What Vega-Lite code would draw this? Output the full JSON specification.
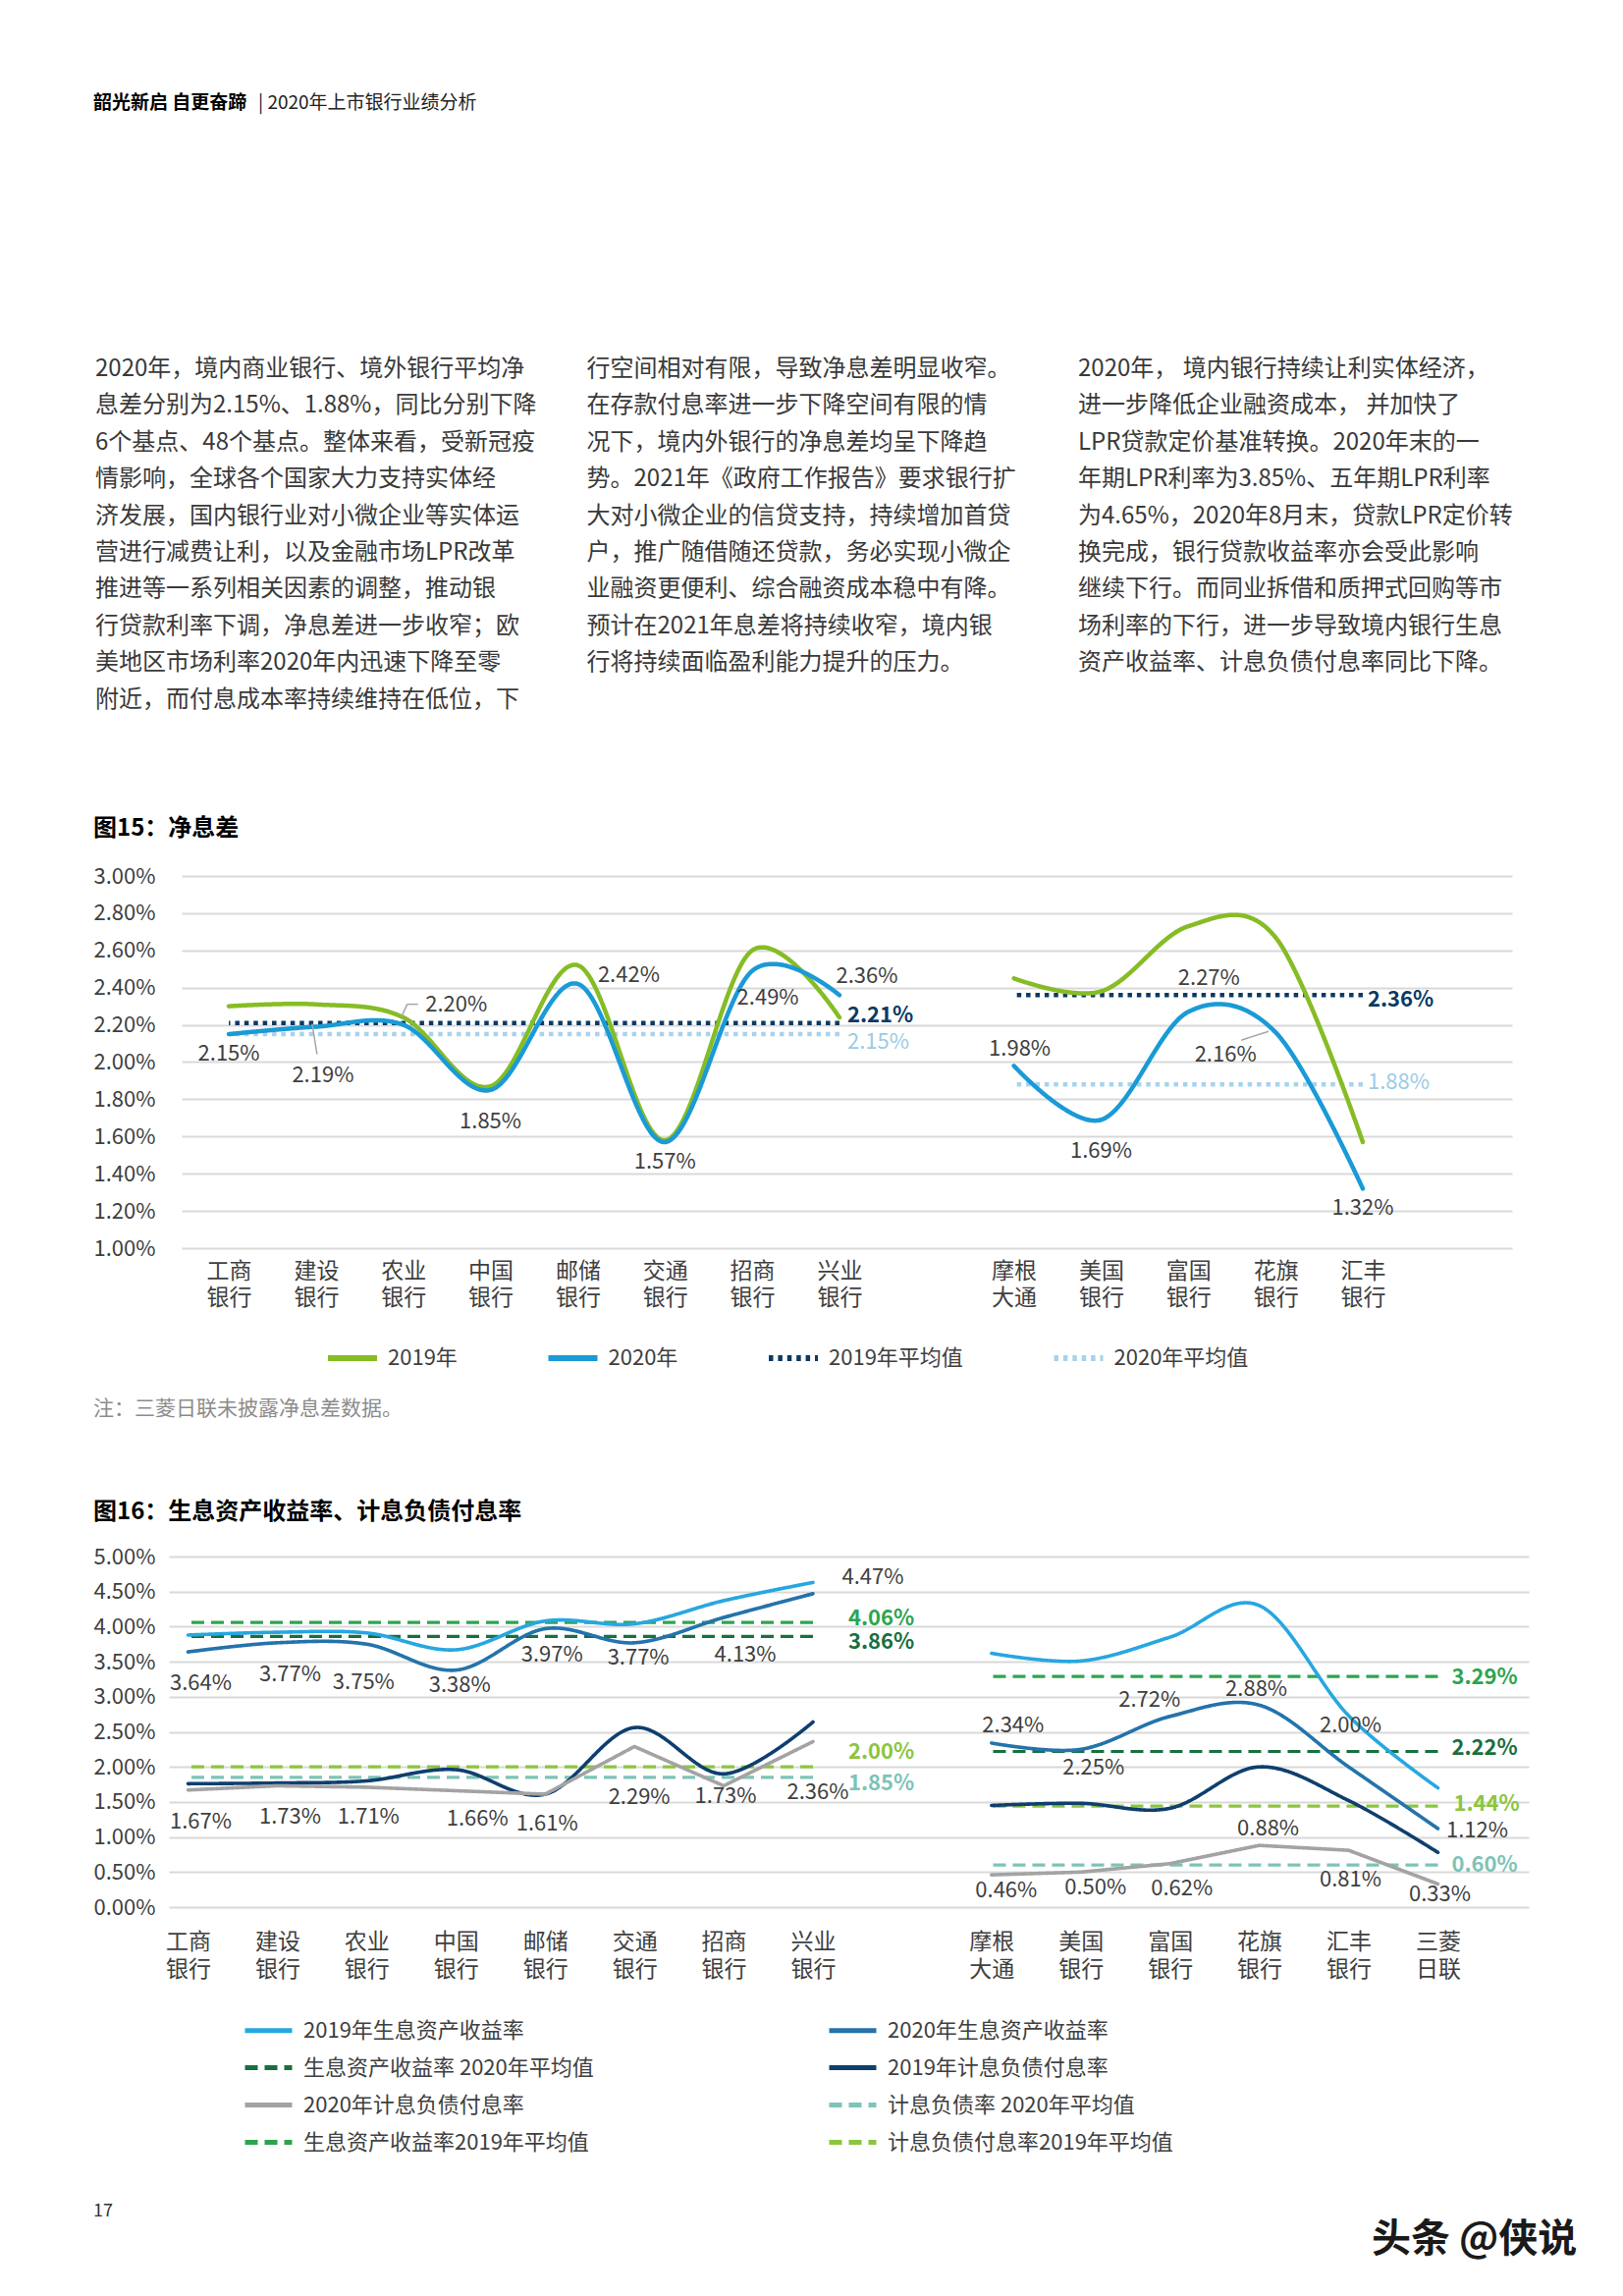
{
  "$schema": "https://vega.github.io/schema/vega-lite/v6.json",
  "padding": 0,
  "background": "white",
  "spacing": 0,
  "bounds": "flush",
  "config": {
    "view": {"stroke": null},
    "font": "Noto Sans CJK SC",
    "title": {"anchor": "start", "fontSize": 24, "fontWeight": "bold", "color": "#000000", "baseline": "bottom"}
  },
  "resolve": {"scale": {"color": "independent", "strokeDash": "independent", "x": "independent", "y": "independent"}, "legend": {"color": "independent", "strokeDash": "independent"}},
  "datasets": {
    "nim": [
      {"bank": "工商银行", "grp": "境内", "series": "2019年", "v": 0.0230},
      {"bank": "建设银行", "grp": "境内", "series": "2019年", "v": 0.0231},
      {"bank": "农业银行", "grp": "境内", "series": "2019年", "v": 0.0224},
      {"bank": "中国银行", "grp": "境内", "series": "2019年", "v": 0.0187},
      {"bank": "邮储银行", "grp": "境内", "series": "2019年", "v": 0.0252},
      {"bank": "交通银行", "grp": "境内", "series": "2019年", "v": 0.0158},
      {"bank": "招商银行", "grp": "境内", "series": "2019年", "v": 0.0260},
      {"bank": "兴业银行", "grp": "境内", "series": "2019年", "v": 0.0224},
      {"bank": "摩根大通", "grp": "境外", "series": "2019年", "v": 0.0245},
      {"bank": "美国银行", "grp": "境外", "series": "2019年", "v": 0.0238},
      {"bank": "富国银行", "grp": "境外", "series": "2019年", "v": 0.0273},
      {"bank": "花旗银行", "grp": "境外", "series": "2019年", "v": 0.0267},
      {"bank": "汇丰银行", "grp": "境外", "series": "2019年", "v": 0.0157},
      {"bank": "工商银行", "grp": "境内", "series": "2020年", "v": 0.0215},
      {"bank": "建设银行", "grp": "境内", "series": "2020年", "v": 0.0219},
      {"bank": "农业银行", "grp": "境内", "series": "2020年", "v": 0.0220},
      {"bank": "中国银行", "grp": "境内", "series": "2020年", "v": 0.0185},
      {"bank": "邮储银行", "grp": "境内", "series": "2020年", "v": 0.0242},
      {"bank": "交通银行", "grp": "境内", "series": "2020年", "v": 0.0157},
      {"bank": "招商银行", "grp": "境内", "series": "2020年", "v": 0.0249},
      {"bank": "兴业银行", "grp": "境内", "series": "2020年", "v": 0.0236},
      {"bank": "摩根大通", "grp": "境外", "series": "2020年", "v": 0.0198},
      {"bank": "美国银行", "grp": "境外", "series": "2020年", "v": 0.0169},
      {"bank": "富国银行", "grp": "境外", "series": "2020年", "v": 0.0227},
      {"bank": "花旗银行", "grp": "境外", "series": "2020年", "v": 0.0216},
      {"bank": "汇丰银行", "grp": "境外", "series": "2020年", "v": 0.0132}
    ],
    "nimAvg": [
      {"grp": "境内", "series": "2019年平均值", "v": 0.0221, "start": "工商银行", "bank": "兴业银行"},
      {"grp": "境内", "series": "2020年平均值", "v": 0.0215, "start": "工商银行", "bank": "兴业银行"},
      {"grp": "境外", "series": "2019年平均值", "v": 0.0236, "start": "摩根大通", "bank": "汇丰银行"},
      {"grp": "境外", "series": "2020年平均值", "v": 0.0188, "start": "摩根大通", "bank": "汇丰银行"}
    ],
    "yld": [
      {"bank": "工商银行", "grp": "境内", "series": "2019年生息资产收益率", "v": 0.0388},
      {"bank": "建设银行", "grp": "境内", "series": "2019年生息资产收益率", "v": 0.0392},
      {"bank": "农业银行", "grp": "境内", "series": "2019年生息资产收益率", "v": 0.0391},
      {"bank": "中国银行", "grp": "境内", "series": "2019年生息资产收益率", "v": 0.0367},
      {"bank": "邮储银行", "grp": "境内", "series": "2019年生息资产收益率", "v": 0.0408},
      {"bank": "交通银行", "grp": "境内", "series": "2019年生息资产收益率", "v": 0.0404},
      {"bank": "招商银行", "grp": "境内", "series": "2019年生息资产收益率", "v": 0.0437},
      {"bank": "兴业银行", "grp": "境内", "series": "2019年生息资产收益率", "v": 0.0463},
      {"bank": "摩根大通", "grp": "境外", "series": "2019年生息资产收益率", "v": 0.0362},
      {"bank": "美国银行", "grp": "境外", "series": "2019年生息资产收益率", "v": 0.0351},
      {"bank": "富国银行", "grp": "境外", "series": "2019年生息资产收益率", "v": 0.0385},
      {"bank": "花旗银行", "grp": "境外", "series": "2019年生息资产收益率", "v": 0.0430},
      {"bank": "汇丰银行", "grp": "境外", "series": "2019年生息资产收益率", "v": 0.0273},
      {"bank": "三菱日联", "grp": "境外", "series": "2019年生息资产收益率", "v": 0.0170},
      {"bank": "工商银行", "grp": "境内", "series": "2020年生息资产收益率", "v": 0.0364},
      {"bank": "建设银行", "grp": "境内", "series": "2020年生息资产收益率", "v": 0.0377},
      {"bank": "农业银行", "grp": "境内", "series": "2020年生息资产收益率", "v": 0.0375},
      {"bank": "中国银行", "grp": "境内", "series": "2020年生息资产收益率", "v": 0.0338},
      {"bank": "邮储银行", "grp": "境内", "series": "2020年生息资产收益率", "v": 0.0397},
      {"bank": "交通银行", "grp": "境内", "series": "2020年生息资产收益率", "v": 0.0377},
      {"bank": "招商银行", "grp": "境内", "series": "2020年生息资产收益率", "v": 0.0413},
      {"bank": "兴业银行", "grp": "境内", "series": "2020年生息资产收益率", "v": 0.0447},
      {"bank": "摩根大通", "grp": "境外", "series": "2020年生息资产收益率", "v": 0.0234},
      {"bank": "美国银行", "grp": "境外", "series": "2020年生息资产收益率", "v": 0.0225},
      {"bank": "富国银行", "grp": "境外", "series": "2020年生息资产收益率", "v": 0.0272},
      {"bank": "花旗银行", "grp": "境外", "series": "2020年生息资产收益率", "v": 0.0288},
      {"bank": "汇丰银行", "grp": "境外", "series": "2020年生息资产收益率", "v": 0.0200},
      {"bank": "三菱日联", "grp": "境外", "series": "2020年生息资产收益率", "v": 0.0112},
      {"bank": "工商银行", "grp": "境内", "series": "2019年计息负债付息率", "v": 0.0176},
      {"bank": "建设银行", "grp": "境内", "series": "2019年计息负债付息率", "v": 0.0177},
      {"bank": "农业银行", "grp": "境内", "series": "2019年计息负债付息率", "v": 0.0180},
      {"bank": "中国银行", "grp": "境内", "series": "2019年计息负债付息率", "v": 0.0196},
      {"bank": "邮储银行", "grp": "境内", "series": "2019年计息负债付息率", "v": 0.0161},
      {"bank": "交通银行", "grp": "境内", "series": "2019年计息负债付息率", "v": 0.0256},
      {"bank": "招商银行", "grp": "境内", "series": "2019年计息负债付息率", "v": 0.0190},
      {"bank": "兴业银行", "grp": "境内", "series": "2019年计息负债付息率", "v": 0.0264},
      {"bank": "摩根大通", "grp": "境外", "series": "2019年计息负债付息率", "v": 0.0145},
      {"bank": "美国银行", "grp": "境外", "series": "2019年计息负债付息率", "v": 0.0148},
      {"bank": "富国银行", "grp": "境外", "series": "2019年计息负债付息率", "v": 0.0141},
      {"bank": "花旗银行", "grp": "境外", "series": "2019年计息负债付息率", "v": 0.0200},
      {"bank": "汇丰银行", "grp": "境外", "series": "2019年计息负债付息率", "v": 0.0152},
      {"bank": "三菱日联", "grp": "境外", "series": "2019年计息负债付息率", "v": 0.0078},
      {"bank": "工商银行", "grp": "境内", "series": "2020年计息负债付息率", "v": 0.0167},
      {"bank": "建设银行", "grp": "境内", "series": "2020年计息负债付息率", "v": 0.0173},
      {"bank": "农业银行", "grp": "境内", "series": "2020年计息负债付息率", "v": 0.0171},
      {"bank": "中国银行", "grp": "境内", "series": "2020年计息负债付息率", "v": 0.0166},
      {"bank": "邮储银行", "grp": "境内", "series": "2020年计息负债付息率", "v": 0.0161},
      {"bank": "交通银行", "grp": "境内", "series": "2020年计息负债付息率", "v": 0.0229},
      {"bank": "招商银行", "grp": "境内", "series": "2020年计息负债付息率", "v": 0.0173},
      {"bank": "兴业银行", "grp": "境内", "series": "2020年计息负债付息率", "v": 0.0236},
      {"bank": "摩根大通", "grp": "境外", "series": "2020年计息负债付息率", "v": 0.0046},
      {"bank": "美国银行", "grp": "境外", "series": "2020年计息负债付息率", "v": 0.0050},
      {"bank": "富国银行", "grp": "境外", "series": "2020年计息负债付息率", "v": 0.0062},
      {"bank": "花旗银行", "grp": "境外", "series": "2020年计息负债付息率", "v": 0.0088},
      {"bank": "汇丰银行", "grp": "境外", "series": "2020年计息负债付息率", "v": 0.0081},
      {"bank": "三菱日联", "grp": "境外", "series": "2020年计息负债付息率", "v": 0.0033}
    ],
    "yldAvg": [
      {"grp": "境内", "series": "生息资产收益率2019年平均值", "v": 0.0406, "start": "工商银行", "bank": "兴业银行"},
      {"grp": "境内", "series": "生息资产收益率 2020年平均值", "v": 0.0386, "start": "工商银行", "bank": "兴业银行"},
      {"grp": "境内", "series": "计息负债付息率2019年平均值", "v": 0.0200, "start": "工商银行", "bank": "兴业银行"},
      {"grp": "境内", "series": "计息负债率 2020年平均值", "v": 0.0185, "start": "工商银行", "bank": "兴业银行"},
      {"grp": "境外", "series": "生息资产收益率2019年平均值", "v": 0.0329, "start": "摩根大通", "bank": "三菱日联"},
      {"grp": "境外", "series": "生息资产收益率 2020年平均值", "v": 0.0222, "start": "摩根大通", "bank": "三菱日联"},
      {"grp": "境外", "series": "计息负债付息率2019年平均值", "v": 0.0144, "start": "摩根大通", "bank": "三菱日联"},
      {"grp": "境外", "series": "计息负债率 2020年平均值", "v": 0.0060, "start": "摩根大通", "bank": "三菱日联"}
    ]
  },
  "vconcat": [
    {
      "width": 1653, "height": 210,
      "data": {"values": [{"slot": "bold", "text": "韶光新启 自更奋蹄"}, {"slot": "rest", "text": "| 2020年上市银行业绩分析"}]},
      "encoding": {
        "x": {"field": "slot", "type": "nominal", "scale": {"type": "band", "domain": ["bold", "rest"], "range": [95, 431], "paddingInner": 0, "paddingOuter": 0}, "bandPosition": 0, "axis": null},
        "text": {"field": "text"}
      },
      "layer": [
        {"transform": [{"filter": {"field": "slot", "equal": "bold"}}], "mark": {"type": "text", "align": "left", "fontSize": 19, "fontWeight": "bold", "color": "#000000"}},
        {"transform": [{"filter": {"field": "slot", "equal": "rest"}}], "mark": {"type": "text", "align": "left", "fontSize": 19, "color": "#222222"}}
      ]
    },
    {
      "width": 1653, "height": 308,
      "data": {"values": [
        {"col": "c1", "text": "2020年，境内商业银行、境外银行平均净\n息差分别为2.15%、1.88%，同比分别下降\n6个基点、48个基点。整体来看，受新冠疫\n情影响，全球各个国家大力支持实体经\n济发展，国内银行业对小微企业等实体运\n营进行减费让利，以及金融市场LPR改革\n推进等一系列相关因素的调整，推动银\n行贷款利率下调，净息差进一步收窄；欧\n美地区市场利率2020年内迅速下降至零\n附近，而付息成本率持续维持在低位，下"},
        {"col": "c2", "text": "行空间相对有限，导致净息差明显收窄。\n在存款付息率进一步下降空间有限的情\n况下，境内外银行的净息差均呈下降趋\n势。2021年《政府工作报告》要求银行扩\n大对小微企业的信贷支持，持续增加首贷\n户，推广随借随还贷款，务必实现小微企\n业融资更便利、综合融资成本稳中有降。\n预计在2021年息差将持续收窄，境内银\n行将持续面临盈利能力提升的压力。"},
        {"col": "c3", "text": "2020年， 境内银行持续让利实体经济，\n进一步降低企业融资成本， 并加快了\nLPR贷款定价基准转换。2020年末的一\n年期LPR利率为3.85%、五年期LPR利率\n为4.65%，2020年8月末，贷款LPR定价转\n换完成，银行贷款收益率亦会受此影响\n继续下行。而同业拆借和质押式回购等市\n场利率的下行，进一步导致境内银行生息\n资产收益率、计息负债付息率同比下降。"}
      ]},
      "mark": {"type": "text", "align": "left", "baseline": "top", "lineBreak": "\n", "lineHeight": 37.4, "fontSize": 24, "color": "#3a3a3a"},
      "encoding": {
        "x": {"field": "col", "type": "nominal", "scale": {"type": "band", "domain": ["c1", "c2", "c3"], "range": [97, 1598.5], "paddingInner": 0, "paddingOuter": 0}, "bandPosition": 0, "axis": null},
        "text": {"field": "text"}
      }
    },
    {
      "width": 1653, "height": 373.5,
      "data": {"values": [{"t": ""}]},
      "mark": "text",
      "encoding": {"text": {"field": "t"}}
    },
    {
      "spacing": 0,
      "bounds": "flush",
      "resolve": {"scale": {"color": "independent", "strokeDash": "independent"}, "legend": {"color": "independent", "strokeDash": "independent"}},
      "hconcat": [
        {"width": 185, "height": 379, "data": {"values": [{"t": ""}]}, "mark": "text", "encoding": {"text": {"field": "t"}}},
        {
          "width": 1355, "height": 379,
          "title": {"text": "图15：净息差", "dx": 0, "offset": 25},
          "encoding": {
            "x": {"field": "bank", "type": "nominal",
              "sort": ["工商银行","建设银行","农业银行","中国银行","邮储银行","交通银行","招商银行","兴业银行"," ","摩根大通","美国银行","富国银行","花旗银行","汇丰银行","end"],
              "scale": {"type": "point", "domain": ["工商银行","建设银行","农业银行","中国银行","邮储银行","交通银行","招商银行","兴业银行"," ","摩根大通","美国银行","富国银行","花旗银行","汇丰银行","end"], "padding": 0.626, "align": 0.432},
              "axis": {"title": null, "domain": false, "ticks": false, "tickSize": 0, "grid": false, "labelAngle": 0, "labelPadding": 12, "labelFontSize": 23, "labelColor": "#404040", "labelLineHeight": 27, "labelBaseline": "top", "labelOverlap": false, "labelExpr": "length(datum.value) == 4 ? [substring(datum.value, 0, 2), substring(datum.value, 2, 4)] : ''"}},
            "y": {"field": "v", "type": "quantitative",
              "scale": {"domain": [0.01, 0.03], "nice": false, "zero": false},
              "axis": {"title": null, "values": [0.01, 0.012, 0.014, 0.016, 0.018, 0.02, 0.022, 0.024, 0.026, 0.028, 0.03], "format": ".2%", "grid": true, "gridColor": "#d9d9d9", "gridWidth": 2, "domain": false, "ticks": false, "tickSize": 0, "labelPadding": 27, "labelFontSize": 22, "labelColor": "#404040"}}
          },
          "layer": [
            {
              "data": {"name": "nimAvg"},
              "mark": {"type": "rule", "strokeWidth": 4.5},
              "encoding": {
                "x2": {"field": "start"},
                "color": {"field": "series", "type": "nominal", "scale": {"domain": ["2019年", "2020年", "2019年平均值", "2020年平均值"], "range": ["#86bc25", "#1a9ad6", "#0b3a63", "#a7d3ec"]},
                  "legend": {"title": null, "orient": "none", "legendX": 146, "legendY": 463, "direction": "horizontal", "symbolType": "stroke", "symbolSize": 2500, "symbolStrokeWidth": 6, "labelFontSize": 22, "labelColor": "#404040", "labelOffset": 8, "columnPadding": 80.5, "padding": 0, "labelLimit": 500}},
                "strokeDash": {"field": "series", "type": "nominal", "scale": {"domain": ["2019年", "2020年", "2019年平均值", "2020年平均值"], "range": [[1, 0], [1, 0], [4.5, 4.9], [4.5, 4.9]]},
                  "legend": {"title": null, "orient": "none", "legendX": 146, "legendY": 463, "direction": "horizontal", "symbolType": "stroke", "symbolSize": 2500, "symbolStrokeWidth": 6, "labelFontSize": 22, "labelColor": "#404040", "labelOffset": 8, "columnPadding": 80.5, "padding": 0, "labelLimit": 500}}
              }
            },
            {
              "data": {"name": "nim"},
              "mark": {"type": "line", "interpolate": "cardinal", "strokeWidth": 4.5, "strokeCap": "round"},
              "encoding": {
                "detail": {"field": "grp"},
                "color": {"field": "series", "type": "nominal", "scale": {"domain": ["2019年", "2020年", "2019年平均值", "2020年平均值"], "range": ["#86bc25", "#1a9ad6", "#0b3a63", "#a7d3ec"]},
                  "legend": {"title": null, "orient": "none", "legendX": 146, "legendY": 463, "direction": "horizontal", "symbolType": "stroke", "symbolSize": 2500, "symbolStrokeWidth": 6, "labelFontSize": 22, "labelColor": "#404040", "labelOffset": 8, "columnPadding": 80.5, "padding": 0, "labelLimit": 500}},
                "strokeDash": {"field": "series", "type": "nominal", "scale": {"domain": ["2019年", "2020年", "2019年平均值", "2020年平均值"], "range": [[1, 0], [1, 0], [4.5, 4.9], [4.5, 4.9]]},
                  "legend": {"title": null, "orient": "none", "legendX": 146, "legendY": 463, "direction": "horizontal", "symbolType": "stroke", "symbolSize": 2500, "symbolStrokeWidth": 6, "labelFontSize": 22, "labelColor": "#404040", "labelOffset": 8, "columnPadding": 80.5, "padding": 0, "labelLimit": 500}}
              }
            },
            {"data": {"name": "nim"}, "transform": [{"filter": {"and": [{"field": "series", "equal": "2020年"}, {"field": "bank", "equal": "建设银行"}]}}], "mark": {"type": "rule", "color": "#a6a6a6", "strokeWidth": 1.5, "xOffset": -4, "yOffset": -3, "x2Offset": 1, "y2Offset": 28}, "encoding": {"x2": {"field": "bank"}, "y2": {"field": "v"}}},
            {"data": {"name": "nim"}, "transform": [{"filter": {"and": [{"field": "series", "equal": "2020年"}, {"field": "bank", "equal": "农业银行"}]}}], "mark": {"type": "rule", "color": "#a6a6a6", "strokeWidth": 1.5, "xOffset": -2, "yOffset": -8, "x2Offset": 4, "y2Offset": -21}, "encoding": {"x2": {"field": "bank"}, "y2": {"field": "v"}}},
            {"data": {"name": "nim"}, "transform": [{"filter": {"and": [{"field": "series", "equal": "2020年"}, {"field": "bank", "equal": "农业银行"}]}}], "mark": {"type": "rule", "color": "#a6a6a6", "strokeWidth": 1.5, "xOffset": 4, "yOffset": -21, "x2Offset": 15, "y2Offset": -21}, "encoding": {"x2": {"field": "bank"}, "y2": {"field": "v"}}},
            {"data": {"name": "nim"}, "transform": [{"filter": {"and": [{"field": "series", "equal": "2020年"}, {"field": "bank", "equal": "花旗银行"}]}}], "mark": {"type": "rule", "color": "#a6a6a6", "strokeWidth": 1.5, "xOffset": -35, "yOffset": 8, "x2Offset": -7, "y2Offset": -1}, "encoding": {"x2": {"field": "bank"}, "y2": {"field": "v"}}},
            {"data": {"name": "nim"}, "transform": [{"filter": {"and": [{"field": "series", "equal": "2020年"}, {"field": "bank", "oneOf": ["工商银行", "交通银行", "汇丰银行"]}]}}], "mark": {"type": "text", "fontSize": 22, "color": "#404040", "dx": 0, "dy": 20}, "encoding": {"text": {"field": "v", "type": "quantitative", "format": ".2%"}}},
            {"data": {"name": "nim"}, "transform": [{"filter": {"and": [{"field": "series", "equal": "2020年"}, {"field": "bank", "oneOf": ["中国银行", "美国银行"]}]}}], "mark": {"type": "text", "fontSize": 22, "color": "#404040", "dx": 0, "dy": 32}, "encoding": {"text": {"field": "v", "type": "quantitative", "format": ".2%"}}},
            {"data": {"name": "nim"}, "transform": [{"filter": {"and": [{"field": "series", "equal": "2020年"}, {"field": "bank", "oneOf": ["建设银行"]}]}}], "mark": {"type": "text", "fontSize": 22, "color": "#404040", "dx": 7, "dy": 50}, "encoding": {"text": {"field": "v", "type": "quantitative", "format": ".2%"}}},
            {"data": {"name": "nim"}, "transform": [{"filter": {"and": [{"field": "series", "equal": "2020年"}, {"field": "bank", "oneOf": ["农业银行"]}]}}], "mark": {"type": "text", "fontSize": 22, "color": "#404040", "dx": 54, "dy": -21}, "encoding": {"text": {"field": "v", "type": "quantitative", "format": ".2%"}}},
            {"data": {"name": "nim"}, "transform": [{"filter": {"and": [{"field": "series", "equal": "2020年"}, {"field": "bank", "oneOf": ["邮储银行"]}]}}], "mark": {"type": "text", "fontSize": 22, "color": "#404040", "dx": 52, "dy": -9}, "encoding": {"text": {"field": "v", "type": "quantitative", "format": ".2%"}}},
            {"data": {"name": "nim"}, "transform": [{"filter": {"and": [{"field": "series", "equal": "2020年"}, {"field": "bank", "oneOf": ["招商银行"]}]}}], "mark": {"type": "text", "fontSize": 22, "color": "#404040", "dx": 16, "dy": 27}, "encoding": {"text": {"field": "v", "type": "quantitative", "format": ".2%"}}},
            {"data": {"name": "nim"}, "transform": [{"filter": {"and": [{"field": "series", "equal": "2020年"}, {"field": "bank", "oneOf": ["兴业银行"]}]}}], "mark": {"type": "text", "fontSize": 22, "color": "#404040", "dx": 28, "dy": -19}, "encoding": {"text": {"field": "v", "type": "quantitative", "format": ".2%"}}},
            {"data": {"name": "nim"}, "transform": [{"filter": {"and": [{"field": "series", "equal": "2020年"}, {"field": "bank", "oneOf": ["摩根大通"]}]}}], "mark": {"type": "text", "fontSize": 22, "color": "#404040", "dx": 6, "dy": -17}, "encoding": {"text": {"field": "v", "type": "quantitative", "format": ".2%"}}},
            {"data": {"name": "nim"}, "transform": [{"filter": {"and": [{"field": "series", "equal": "2020年"}, {"field": "bank", "oneOf": ["富国银行"]}]}}], "mark": {"type": "text", "fontSize": 22, "color": "#404040", "dx": 21, "dy": -34}, "encoding": {"text": {"field": "v", "type": "quantitative", "format": ".2%"}}},
            {"data": {"name": "nim"}, "transform": [{"filter": {"and": [{"field": "series", "equal": "2020年"}, {"field": "bank", "oneOf": ["花旗银行"]}]}}], "mark": {"type": "text", "fontSize": 22, "color": "#404040", "dx": -51, "dy": 23}, "encoding": {"text": {"field": "v", "type": "quantitative", "format": ".2%"}}},
            {"data": {"name": "nimAvg"}, "transform": [{"filter": {"and": [{"field": "grp", "equal": "境内"}, {"field": "series", "equal": "2019年平均值"}]}}], "mark": {"type": "text", "align": "left", "fontSize": 22, "fontWeight": "bold", "color": "#0b3a63", "dx": 8, "dy": -8}, "encoding": {"text": {"field": "v", "type": "quantitative", "format": ".2%"}}},
            {"data": {"name": "nimAvg"}, "transform": [{"filter": {"and": [{"field": "grp", "equal": "境内"}, {"field": "series", "equal": "2020年平均值"}]}}], "mark": {"type": "text", "align": "left", "fontSize": 22, "color": "#9ccbe6", "dx": 8, "dy": 8}, "encoding": {"text": {"field": "v", "type": "quantitative", "format": ".2%"}}},
            {"data": {"name": "nimAvg"}, "transform": [{"filter": {"and": [{"field": "grp", "equal": "境外"}, {"field": "series", "equal": "2019年平均值"}]}}], "mark": {"type": "text", "align": "left", "fontSize": 22, "fontWeight": "bold", "color": "#0b3a63", "dx": 5, "dy": 5}, "encoding": {"text": {"field": "v", "type": "quantitative", "format": ".2%"}}},
            {"data": {"name": "nimAvg"}, "transform": [{"filter": {"and": [{"field": "grp", "equal": "境外"}, {"field": "series", "equal": "2020年平均值"}]}}], "mark": {"type": "text", "align": "left", "fontSize": 22, "color": "#9ccbe6", "dx": 5, "dy": -2}, "encoding": {"text": {"field": "v", "type": "quantitative", "format": ".2%"}}}
          ]
        }
      ]
    },
    {
      "width": 1653, "height": 379,
      "data": {"values": [{"t": ""}]},
      "mark": "text",
      "encoding": {"text": {"field": "t"}}
    },
    {
      "width": 1653, "height": 313.5,
      "data": {"values": [{"slot": "note", "text": "注：三菱日联未披露净息差数据。"}]},
      "mark": {"type": "text", "align": "left", "fontSize": 21, "color": "#8c8c8c", "dy": 7},
      "encoding": {
        "x": {"field": "slot", "type": "nominal", "scale": {"type": "band", "domain": ["note"], "range": [95, 600], "paddingInner": 0, "paddingOuter": 0}, "bandPosition": 0, "axis": null},
        "text": {"field": "text"}
      }
    },
    {
      "spacing": 0,
      "bounds": "flush",
      "resolve": {"scale": {"color": "independent", "strokeDash": "independent"}, "legend": {"color": "independent", "strokeDash": "independent"}},
      "hconcat": [
        {"width": 172, "height": 357, "data": {"values": [{"t": ""}]}, "mark": "text", "encoding": {"text": {"field": "t"}}},
        {
          "width": 1385, "height": 357,
          "title": {"text": "图16：生息资产收益率、计息负债付息率", "dx": 0, "offset": 22},
          "encoding": {
            "x": {"field": "bank", "type": "nominal",
              "sort": ["工商银行","建设银行","农业银行","中国银行","邮储银行","交通银行","招商银行","兴业银行"," ","摩根大通","美国银行","富国银行","花旗银行","汇丰银行","三菱日联"],
              "scale": {"type": "point", "domain": ["工商银行","建设银行","农业银行","中国银行","邮储银行","交通银行","招商银行","兴业银行"," ","摩根大通","美国银行","富国银行","花旗银行","汇丰银行","三菱日联"], "padding": 0.616, "align": 0.174},
              "axis": {"title": null, "domain": false, "ticks": false, "tickSize": 0, "grid": false, "labelAngle": 0, "labelPadding": 24, "labelFontSize": 23, "labelColor": "#404040", "labelLineHeight": 28, "labelBaseline": "top", "labelOverlap": false, "labelExpr": "length(datum.value) == 4 ? [substring(datum.value, 0, 2), substring(datum.value, 2, 4)] : ''"}},
            "y": {"field": "v", "type": "quantitative",
              "scale": {"domain": [0, 0.05], "nice": false, "zero": false},
              "axis": {"title": null, "values": [0, 0.005, 0.01, 0.015, 0.02, 0.025, 0.03, 0.035, 0.04, 0.045, 0.05], "format": ".2%", "grid": true, "gridColor": "#d9d9d9", "gridWidth": 2, "domain": false, "ticks": false, "tickSize": 0, "labelPadding": 14, "labelFontSize": 22, "labelColor": "#404040"}}
          },
          "layer": [
            {
              "data": {"name": "yldAvg"},
              "mark": {"type": "rule", "strokeWidth": 3.2},
              "encoding": {
                "x2": {"field": "start"},
                "color": {"field": "series", "type": "nominal",
                  "scale": {"domain": ["2019年生息资产收益率", "2020年生息资产收益率", "生息资产收益率 2020年平均值", "2019年计息负债付息率", "2020年计息负债付息率", "计息负债率 2020年平均值", "生息资产收益率2019年平均值", "计息负债付息率2019年平均值"], "range": ["#27a7e0", "#2473ab", "#18703f", "#0e3f6e", "#a3a3a3", "#7dc3b8", "#2ea44f", "#8cc53f"]},
                  "legend": {"title": null, "orient": "none", "legendX": 75, "legendY": 456, "columns": 2, "direction": "horizontal", "symbolType": "stroke", "symbolSize": 2304, "symbolStrokeWidth": 5, "labelFontSize": 22, "labelColor": "#404040", "labelOffset": 9, "columnPadding": 229, "rowPadding": -3.4, "padding": 0, "labelLimit": 600}},
                "strokeDash": {"field": "series", "type": "nominal",
                  "scale": {"domain": ["2019年生息资产收益率", "2020年生息资产收益率", "生息资产收益率 2020年平均值", "2019年计息负债付息率", "2020年计息负债付息率", "计息负债率 2020年平均值", "生息资产收益率2019年平均值", "计息负债付息率2019年平均值"], "range": [[1, 0], [1, 0], [13, 7], [1, 0], [1, 0], [13, 7], [13, 7], [13, 7]]},
                  "legend": {"title": null, "orient": "none", "legendX": 75, "legendY": 456, "columns": 2, "direction": "horizontal", "symbolType": "stroke", "symbolSize": 2304, "symbolStrokeWidth": 5, "labelFontSize": 22, "labelColor": "#404040", "labelOffset": 9, "columnPadding": 229, "rowPadding": -3.4, "padding": 0, "labelLimit": 600}}
              }
            },
            {
              "data": {"name": "yld"},
              "transform": [{"filter": {"field": "series", "oneOf": ["2019年生息资产收益率", "2020年生息资产收益率", "2019年计息负债付息率"]}}],
              "mark": {"type": "line", "interpolate": "cardinal", "strokeWidth": 3.6, "strokeCap": "round"},
              "encoding": {
                "detail": {"field": "grp"},
                "color": {"field": "series", "type": "nominal",
                  "scale": {"domain": ["2019年生息资产收益率", "2020年生息资产收益率", "生息资产收益率 2020年平均值", "2019年计息负债付息率", "2020年计息负债付息率", "计息负债率 2020年平均值", "生息资产收益率2019年平均值", "计息负债付息率2019年平均值"], "range": ["#27a7e0", "#2473ab", "#18703f", "#0e3f6e", "#a3a3a3", "#7dc3b8", "#2ea44f", "#8cc53f"]},
                  "legend": {"title": null, "orient": "none", "legendX": 75, "legendY": 456, "columns": 2, "direction": "horizontal", "symbolType": "stroke", "symbolSize": 2304, "symbolStrokeWidth": 5, "labelFontSize": 22, "labelColor": "#404040", "labelOffset": 9, "columnPadding": 229, "rowPadding": -3.4, "padding": 0, "labelLimit": 600}},
                "strokeDash": {"field": "series", "type": "nominal",
                  "scale": {"domain": ["2019年生息资产收益率", "2020年生息资产收益率", "生息资产收益率 2020年平均值", "2019年计息负债付息率", "2020年计息负债付息率", "计息负债率 2020年平均值", "生息资产收益率2019年平均值", "计息负债付息率2019年平均值"], "range": [[1, 0], [1, 0], [13, 7], [1, 0], [1, 0], [13, 7], [13, 7], [13, 7]]},
                  "legend": {"title": null, "orient": "none", "legendX": 75, "legendY": 456, "columns": 2, "direction": "horizontal", "symbolType": "stroke", "symbolSize": 2304, "symbolStrokeWidth": 5, "labelFontSize": 22, "labelColor": "#404040", "labelOffset": 9, "columnPadding": 229, "rowPadding": -3.4, "padding": 0, "labelLimit": 600}}
              }
            },
            {
              "data": {"name": "yld"},
              "transform": [{"filter": {"field": "series", "equal": "2020年计息负债付息率"}}],
              "mark": {"type": "line", "interpolate": "linear", "strokeWidth": 3.6, "strokeCap": "round", "strokeJoin": "round"},
              "encoding": {
                "detail": {"field": "grp"},
                "color": {"field": "series", "type": "nominal",
                  "scale": {"domain": ["2019年生息资产收益率", "2020年生息资产收益率", "生息资产收益率 2020年平均值", "2019年计息负债付息率", "2020年计息负债付息率", "计息负债率 2020年平均值", "生息资产收益率2019年平均值", "计息负债付息率2019年平均值"], "range": ["#27a7e0", "#2473ab", "#18703f", "#0e3f6e", "#a3a3a3", "#7dc3b8", "#2ea44f", "#8cc53f"]},
                  "legend": {"title": null, "orient": "none", "legendX": 75, "legendY": 456, "columns": 2, "direction": "horizontal", "symbolType": "stroke", "symbolSize": 2304, "symbolStrokeWidth": 5, "labelFontSize": 22, "labelColor": "#404040", "labelOffset": 9, "columnPadding": 229, "rowPadding": -3.4, "padding": 0, "labelLimit": 600}},
                "strokeDash": {"field": "series", "type": "nominal",
                  "scale": {"domain": ["2019年生息资产收益率", "2020年生息资产收益率", "生息资产收益率 2020年平均值", "2019年计息负债付息率", "2020年计息负债付息率", "计息负债率 2020年平均值", "生息资产收益率2019年平均值", "计息负债付息率2019年平均值"], "range": [[1, 0], [1, 0], [13, 7], [1, 0], [1, 0], [13, 7], [13, 7], [13, 7]]},
                  "legend": {"title": null, "orient": "none", "legendX": 75, "legendY": 456, "columns": 2, "direction": "horizontal", "symbolType": "stroke", "symbolSize": 2304, "symbolStrokeWidth": 5, "labelFontSize": 22, "labelColor": "#404040", "labelOffset": 9, "columnPadding": 229, "rowPadding": -3.4, "padding": 0, "labelLimit": 600}}
              }
            },
            {"data": {"name": "yld"}, "transform": [{"filter": {"and": [{"field": "series", "equal": "2020年生息资产收益率"}, {"field": "bank", "oneOf": ["工商银行", "建设银行"]}]}}], "mark": {"type": "text", "fontSize": 22, "color": "#404040", "dx": 13, "dy": 32}, "encoding": {"text": {"field": "v", "type": "quantitative", "format": ".2%"}}},
            {"data": {"name": "yld"}, "transform": [{"filter": {"and": [{"field": "series", "equal": "2020年生息资产收益率"}, {"field": "bank", "oneOf": ["邮储银行"]}]}}], "mark": {"type": "text", "fontSize": 22, "color": "#404040", "dx": 7, "dy": 26}, "encoding": {"text": {"field": "v", "type": "quantitative", "format": ".2%"}}},
            {"data": {"name": "yld"}, "transform": [{"filter": {"and": [{"field": "series", "equal": "2020年生息资产收益率"}, {"field": "bank", "oneOf": ["中国银行", "交通银行"]}]}}], "mark": {"type": "text", "fontSize": 22, "color": "#404040", "dx": 4, "dy": 15}, "encoding": {"text": {"field": "v", "type": "quantitative", "format": ".2%"}}},
            {"data": {"name": "yld"}, "transform": [{"filter": {"and": [{"field": "series", "equal": "2020年生息资产收益率"}, {"field": "bank", "oneOf": ["农业银行"]}]}}], "mark": {"type": "text", "fontSize": 22, "color": "#404040", "dx": -3, "dy": 39}, "encoding": {"text": {"field": "v", "type": "quantitative", "format": ".2%"}}},
            {"data": {"name": "yld"}, "transform": [{"filter": {"and": [{"field": "series", "equal": "2020年生息资产收益率"}, {"field": "bank", "oneOf": ["招商银行"]}]}}], "mark": {"type": "text", "fontSize": 22, "color": "#404040", "dx": 22, "dy": 38}, "encoding": {"text": {"field": "v", "type": "quantitative", "format": ".2%"}}},
            {"data": {"name": "yld"}, "transform": [{"filter": {"and": [{"field": "series", "equal": "2020年生息资产收益率"}, {"field": "bank", "oneOf": ["兴业银行"]}]}}], "mark": {"type": "text", "fontSize": 22, "color": "#404040", "dx": 61, "dy": -17}, "encoding": {"text": {"field": "v", "type": "quantitative", "format": ".2%"}}},
            {"data": {"name": "yld"}, "transform": [{"filter": {"and": [{"field": "series", "equal": "2020年生息资产收益率"}, {"field": "bank", "oneOf": ["摩根大通"]}]}}], "mark": {"type": "text", "fontSize": 22, "color": "#404040", "dx": 22, "dy": -18}, "encoding": {"text": {"field": "v", "type": "quantitative", "format": ".2%"}}},
            {"data": {"name": "yld"}, "transform": [{"filter": {"and": [{"field": "series", "equal": "2020年生息资产收益率"}, {"field": "bank", "oneOf": ["美国银行"]}]}}], "mark": {"type": "text", "fontSize": 22, "color": "#404040", "dx": 13, "dy": 19}, "encoding": {"text": {"field": "v", "type": "quantitative", "format": ".2%"}}},
            {"data": {"name": "yld"}, "transform": [{"filter": {"and": [{"field": "series", "equal": "2020年生息资产收益率"}, {"field": "bank", "oneOf": ["富国银行"]}]}}], "mark": {"type": "text", "fontSize": 22, "color": "#404040", "dx": -21, "dy": -17}, "encoding": {"text": {"field": "v", "type": "quantitative", "format": ".2%"}}},
            {"data": {"name": "yld"}, "transform": [{"filter": {"and": [{"field": "series", "equal": "2020年生息资产收益率"}, {"field": "bank", "oneOf": ["花旗银行"]}]}}], "mark": {"type": "text", "fontSize": 22, "color": "#404040", "dx": -3, "dy": -16}, "encoding": {"text": {"field": "v", "type": "quantitative", "format": ".2%"}}},
            {"data": {"name": "yld"}, "transform": [{"filter": {"and": [{"field": "series", "equal": "2020年生息资产收益率"}, {"field": "bank", "oneOf": ["汇丰银行"]}]}}], "mark": {"type": "text", "fontSize": 22, "color": "#404040", "dx": 2, "dy": -42}, "encoding": {"text": {"field": "v", "type": "quantitative", "format": ".2%"}}},
            {"data": {"name": "yld"}, "transform": [{"filter": {"and": [{"field": "series", "equal": "2020年生息资产收益率"}, {"field": "bank", "oneOf": ["三菱日联"]}]}}], "mark": {"type": "text", "fontSize": 22, "color": "#404040", "dx": 40, "dy": 2}, "encoding": {"text": {"field": "v", "type": "quantitative", "format": ".2%"}}},
            {"data": {"name": "yld"}, "transform": [{"filter": {"and": [{"field": "series", "equal": "2020年计息负债付息率"}, {"field": "bank", "oneOf": ["工商银行", "建设银行"]}]}}], "mark": {"type": "text", "fontSize": 22, "color": "#404040", "dx": 13, "dy": 32}, "encoding": {"text": {"field": "v", "type": "quantitative", "format": ".2%"}}},
            {"data": {"name": "yld"}, "transform": [{"filter": {"and": [{"field": "series", "equal": "2020年计息负债付息率"}, {"field": "bank", "oneOf": ["农业银行", "邮储银行", "汇丰银行"]}]}}], "mark": {"type": "text", "fontSize": 22, "color": "#404040", "dx": 2, "dy": 30}, "encoding": {"text": {"field": "v", "type": "quantitative", "format": ".2%"}}},
            {"data": {"name": "yld"}, "transform": [{"filter": {"and": [{"field": "series", "equal": "2020年计息负债付息率"}, {"field": "bank", "oneOf": ["中国银行"]}]}}], "mark": {"type": "text", "fontSize": 22, "color": "#404040", "dx": 22, "dy": 29}, "encoding": {"text": {"field": "v", "type": "quantitative", "format": ".2%"}}},
            {"data": {"name": "yld"}, "transform": [{"filter": {"and": [{"field": "series", "equal": "2020年计息负债付息率"}, {"field": "bank", "oneOf": ["交通银行", "兴业银行"]}]}}], "mark": {"type": "text", "fontSize": 22, "color": "#404040", "dx": 5, "dy": 52}, "encoding": {"text": {"field": "v", "type": "quantitative", "format": ".2%"}}},
            {"data": {"name": "yld"}, "transform": [{"filter": {"and": [{"field": "series", "equal": "2020年计息负债付息率"}, {"field": "bank", "oneOf": ["招商银行", "三菱日联"]}]}}], "mark": {"type": "text", "fontSize": 22, "color": "#404040", "dx": 2, "dy": 11}, "encoding": {"text": {"field": "v", "type": "quantitative", "format": ".2%"}}},
            {"data": {"name": "yld"}, "transform": [{"filter": {"and": [{"field": "series", "equal": "2020年计息负债付息率"}, {"field": "bank", "oneOf": ["摩根大通", "美国银行"]}]}}], "mark": {"type": "text", "fontSize": 22, "color": "#404040", "dx": 15, "dy": 16}, "encoding": {"text": {"field": "v", "type": "quantitative", "format": ".2%"}}},
            {"data": {"name": "yld"}, "transform": [{"filter": {"and": [{"field": "series", "equal": "2020年计息负债付息率"}, {"field": "bank", "oneOf": ["富国银行"]}]}}], "mark": {"type": "text", "fontSize": 22, "color": "#404040", "dx": 12, "dy": 25}, "encoding": {"text": {"field": "v", "type": "quantitative", "format": ".2%"}}},
            {"data": {"name": "yld"}, "transform": [{"filter": {"and": [{"field": "series", "equal": "2020年计息负债付息率"}, {"field": "bank", "oneOf": ["花旗银行"]}]}}], "mark": {"type": "text", "fontSize": 22, "color": "#404040", "dx": 9, "dy": -17}, "encoding": {"text": {"field": "v", "type": "quantitative", "format": ".2%"}}},
            {"data": {"name": "yldAvg"}, "transform": [{"filter": {"and": [{"field": "grp", "equal": "境内"}, {"field": "series", "equal": "生息资产收益率2019年平均值"}]}}], "mark": {"type": "text", "align": "left", "fontSize": 22, "fontWeight": "bold", "color": "#2ea44f", "dx": 36, "dy": -4}, "encoding": {"text": {"field": "v", "type": "quantitative", "format": ".2%"}}},
            {"data": {"name": "yldAvg"}, "transform": [{"filter": {"and": [{"field": "grp", "equal": "境内"}, {"field": "series", "equal": "生息资产收益率 2020年平均值"}]}}], "mark": {"type": "text", "align": "left", "fontSize": 22, "fontWeight": "bold", "color": "#18703f", "dx": 36, "dy": 6}, "encoding": {"text": {"field": "v", "type": "quantitative", "format": ".2%"}}},
            {"data": {"name": "yldAvg"}, "transform": [{"filter": {"and": [{"field": "grp", "equal": "境内"}, {"field": "series", "equal": "计息负债付息率2019年平均值"}]}}], "mark": {"type": "text", "align": "left", "fontSize": 22, "fontWeight": "bold", "color": "#8cc53f", "dx": 36, "dy": -15}, "encoding": {"text": {"field": "v", "type": "quantitative", "format": ".2%"}}},
            {"data": {"name": "yldAvg"}, "transform": [{"filter": {"and": [{"field": "grp", "equal": "境内"}, {"field": "series", "equal": "计息负债率 2020年平均值"}]}}], "mark": {"type": "text", "align": "left", "fontSize": 22, "fontWeight": "bold", "color": "#7dc3b8", "dx": 36, "dy": 6}, "encoding": {"text": {"field": "v", "type": "quantitative", "format": ".2%"}}},
            {"data": {"name": "yldAvg"}, "transform": [{"filter": {"and": [{"field": "grp", "equal": "境外"}, {"field": "series", "equal": "生息资产收益率2019年平均值"}]}}], "mark": {"type": "text", "align": "left", "fontSize": 22, "fontWeight": "bold", "color": "#2ea44f", "dx": 14, "dy": 1}, "encoding": {"text": {"field": "v", "type": "quantitative", "format": ".2%"}}},
            {"data": {"name": "yldAvg"}, "transform": [{"filter": {"and": [{"field": "grp", "equal": "境外"}, {"field": "series", "equal": "生息资产收益率 2020年平均值"}]}}], "mark": {"type": "text", "align": "left", "fontSize": 22, "fontWeight": "bold", "color": "#18703f", "dx": 14, "dy": -3}, "encoding": {"text": {"field": "v", "type": "quantitative", "format": ".2%"}}},
            {"data": {"name": "yldAvg"}, "transform": [{"filter": {"and": [{"field": "grp", "equal": "境外"}, {"field": "series", "equal": "计息负债付息率2019年平均值"}]}}], "mark": {"type": "text", "align": "left", "fontSize": 22, "fontWeight": "bold", "color": "#8cc53f", "dx": 16, "dy": -2}, "encoding": {"text": {"field": "v", "type": "quantitative", "format": ".2%"}}},
            {"data": {"name": "yldAvg"}, "transform": [{"filter": {"and": [{"field": "grp", "equal": "境外"}, {"field": "series", "equal": "计息负债率 2020年平均值"}]}}], "mark": {"type": "text", "align": "left", "fontSize": 22, "fontWeight": "bold", "color": "#7dc3b8", "dx": 14, "dy": 0}, "encoding": {"text": {"field": "v", "type": "quantitative", "format": ".2%"}}}
          ]
        }
      ]
    },
    {
      "width": 1653, "height": 357,
      "data": {"values": [{"t": ""}]},
      "mark": "text",
      "encoding": {"text": {"field": "t"}}
    },
    {
      "width": 1653, "height": 397,
      "data": {"values": [{"slot": "page", "text": "17"}, {"slot": "wm", "text": "头条 @侠说"}]},
      "encoding": {
        "x": {"field": "slot", "type": "nominal", "scale": {"type": "band", "domain": ["page", "wm"], "range": [95, 2699], "paddingInner": 0, "paddingOuter": 0}, "bandPosition": 0, "axis": null},
        "y": {"field": "slot", "type": "nominal", "scale": {"type": "point", "domain": ["page", "wm"], "range": [310, 339], "padding": 0}, "axis": null},
        "text": {"field": "text"}
      },
      "layer": [
        {"transform": [{"filter": {"field": "slot", "equal": "page"}}], "mark": {"type": "text", "align": "left", "fontSize": 18, "color": "#333333"}},
        {"transform": [{"filter": {"field": "slot", "equal": "wm"}}], "mark": {"type": "text", "align": "left", "fontSize": 40, "fontWeight": "bold", "color": "#1a1a1a"}}
      ]
    }
  ]
}
